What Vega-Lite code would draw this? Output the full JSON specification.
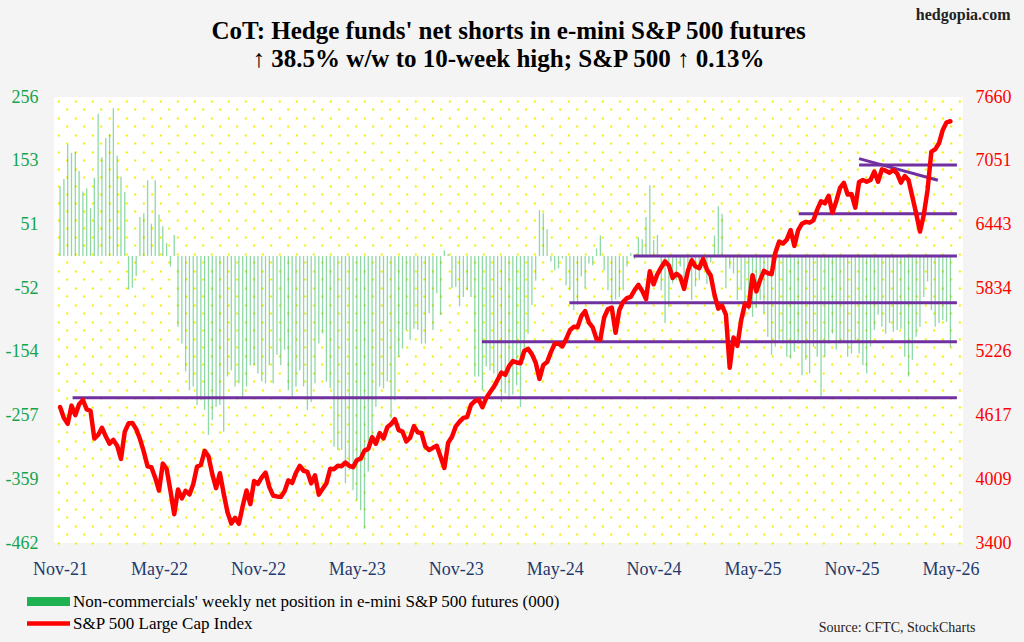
{
  "$schema": "https://vega.github.io/schema/vega-lite/v6.json",
  "width": 909,
  "height": 446,
  "autosize": {"type": "none"},
  "padding": {"left": 54, "top": 97, "right": 61, "bottom": 99},
  "background": "#f4f4f4",
  "config": {
    "font": "Liberation Serif",
    "view": {"fill": "#ffffff", "stroke": null}
  },
  "title": {
    "text": ["CoT: Hedge funds' net shorts in e-mini S&P 500 futures", "↑ 38.5% w/w to 10-week high; S&P 500 ↑ 0.13%"],
    "font": "Liberation Serif",
    "fontSize": 25,
    "fontWeight": "bold",
    "lineHeight": 28,
    "color": "#000000",
    "anchor": "middle",
    "frame": "group",
    "offset": -66
  },
  "datasets": {
    "weeks": [
      {"d":"2021-11-16","n":112,"s":4698},{"d":"2021-11-23","n":124,"s":4595},{"d":"2021-11-30","n":180,"s":4538},
      {"d":"2021-12-07","n":166,"s":4712},{"d":"2021-12-14","n":168,"s":4621},{"d":"2021-12-21","n":137,"s":4726},
      {"d":"2021-12-28","n":104,"s":4766},{"d":"2022-01-04","n":109,"s":4677},{"d":"2022-01-11","n":77,"s":4663},
      {"d":"2022-01-18","n":126,"s":4398},{"d":"2022-01-25","n":229,"s":4432},{"d":"2022-02-01","n":159,"s":4501},
      {"d":"2022-02-08","n":190,"s":4419},{"d":"2022-02-15","n":196,"s":4349},{"d":"2022-02-22","n":238,"s":4385},
      {"d":"2022-03-01","n":162,"s":4329},{"d":"2022-03-08","n":128,"s":4204},{"d":"2022-03-15","n":103,"s":4463},
      {"d":"2022-03-22","n":-54,"s":4543},{"d":"2022-03-29","n":-51,"s":4546},{"d":"2022-04-05","n":-32,"s":4488},
      {"d":"2022-04-12","n":63,"s":4393},{"d":"2022-04-19","n":69,"s":4272},{"d":"2022-04-26","n":122,"s":4132},
      {"d":"2022-05-03","n":52,"s":4123},{"d":"2022-05-10","n":122,"s":4024},{"d":"2022-05-17","n":67,"s":3901},
      {"d":"2022-05-24","n":48,"s":4158},{"d":"2022-05-31","n":21,"s":4109},{"d":"2022-06-07","n":-17,"s":3901},
      {"d":"2022-06-14","n":34,"s":3675},{"d":"2022-06-21","n":-114,"s":3912},{"d":"2022-06-28","n":-141,"s":3825},
      {"d":"2022-07-05","n":-186,"s":3899},{"d":"2022-07-12","n":-216,"s":3863},{"d":"2022-07-19","n":-210,"s":3962},
      {"d":"2022-07-26","n":-240,"s":4130},{"d":"2022-08-02","n":-232,"s":4145},{"d":"2022-08-09","n":-248,"s":4280},
      {"d":"2022-08-16","n":-288,"s":4228},{"d":"2022-08-23","n":-264,"s":4058},{"d":"2022-08-30","n":-243,"s":3924},
      {"d":"2022-09-06","n":-240,"s":4067},{"d":"2022-09-13","n":-283,"s":3873},{"d":"2022-09-20","n":-194,"s":3693},
      {"d":"2022-09-27","n":-184,"s":3586},{"d":"2022-10-04","n":-210,"s":3640},{"d":"2022-10-11","n":-205,"s":3583},
      {"d":"2022-10-18","n":-227,"s":3753},{"d":"2022-10-25","n":-210,"s":3901},{"d":"2022-11-01","n":-176,"s":3771},
      {"d":"2022-11-08","n":-176,"s":3993},{"d":"2022-11-15","n":-189,"s":3965},{"d":"2022-11-22","n":-202,"s":4026},
      {"d":"2022-11-29","n":-205,"s":4072},{"d":"2022-12-06","n":-176,"s":3934},{"d":"2022-12-13","n":-205,"s":3852},
      {"d":"2022-12-20","n":-159,"s":3845},{"d":"2022-12-27","n":-176,"s":3840},{"d":"2023-01-03","n":-151,"s":3895},
      {"d":"2023-01-10","n":-216,"s":3999},{"d":"2023-01-17","n":-227,"s":3973},{"d":"2023-01-24","n":-210,"s":4071},
      {"d":"2023-01-31","n":-184,"s":4136},{"d":"2023-02-07","n":-210,"s":4090},{"d":"2023-02-14","n":-248,"s":4079},
      {"d":"2023-02-21","n":-235,"s":3970},{"d":"2023-02-28","n":-205,"s":4046},{"d":"2023-03-07","n":-141,"s":3862},
      {"d":"2023-03-14","n":-125,"s":3917},{"d":"2023-03-21","n":-202,"s":3971},{"d":"2023-03-28","n":-213,"s":4109},
      {"d":"2023-04-04","n":-307,"s":4105},{"d":"2023-04-11","n":-312,"s":4138},{"d":"2023-04-18","n":-312,"s":4134},
      {"d":"2023-04-25","n":-366,"s":4169},{"d":"2023-05-02","n":-345,"s":4136},{"d":"2023-05-09","n":-377,"s":4124},
      {"d":"2023-05-16","n":-393,"s":4192},{"d":"2023-05-23","n":-409,"s":4205},{"d":"2023-05-30","n":-439,"s":4282},
      {"d":"2023-06-06","n":-347,"s":4299},{"d":"2023-06-13","n":-302,"s":4410},{"d":"2023-06-20","n":-243,"s":4348},
      {"d":"2023-06-27","n":-210,"s":4450},{"d":"2023-07-04","n":-213,"s":4399},{"d":"2023-07-11","n":-202,"s":4505},
      {"d":"2023-07-18","n":-261,"s":4536},{"d":"2023-07-25","n":-232,"s":4582},{"d":"2023-08-01","n":-162,"s":4478},
      {"d":"2023-08-08","n":-149,"s":4464},{"d":"2023-08-15","n":-119,"s":4370},{"d":"2023-08-22","n":-135,"s":4406},
      {"d":"2023-08-29","n":-117,"s":4516},{"d":"2023-09-05","n":-119,"s":4457},{"d":"2023-09-12","n":-141,"s":4450},
      {"d":"2023-09-19","n":-141,"s":4320},{"d":"2023-09-26","n":-92,"s":4288},{"d":"2023-10-03","n":-119,"s":4309},
      {"d":"2023-10-10","n":-60,"s":4328},{"d":"2023-10-17","n":-95,"s":4224},{"d":"2023-10-24","n":9,"s":4117},
      {"d":"2023-10-31","n":3,"s":4358},{"d":"2023-11-07","n":-52,"s":4415},{"d":"2023-11-14","n":-50,"s":4514},
      {"d":"2023-11-21","n":-81,"s":4559},{"d":"2023-11-28","n":-66,"s":4595},{"d":"2023-12-05","n":-55,"s":4604},
      {"d":"2023-12-12","n":-66,"s":4719},{"d":"2023-12-19","n":-194,"s":4755},{"d":"2023-12-26","n":-194,"s":4770},
      {"d":"2024-01-02","n":-216,"s":4697},{"d":"2024-01-09","n":-178,"s":4784},{"d":"2024-01-16","n":-184,"s":4840},
      {"d":"2024-01-23","n":-189,"s":4891},{"d":"2024-01-30","n":-208,"s":4959},{"d":"2024-02-06","n":-235,"s":5027},
      {"d":"2024-02-13","n":-221,"s":5006},{"d":"2024-02-20","n":-227,"s":5089},{"d":"2024-02-27","n":-223,"s":5137},
      {"d":"2024-03-05","n":-208,"s":5124},{"d":"2024-03-12","n":-243,"s":5117},{"d":"2024-03-19","n":-167,"s":5234},
      {"d":"2024-03-26","n":-125,"s":5254},{"d":"2024-04-02","n":-79,"s":5204},{"d":"2024-04-09","n":-40,"s":5123},
      {"d":"2024-04-16","n":74,"s":4967},{"d":"2024-04-23","n":69,"s":5100},{"d":"2024-04-30","n":43,"s":5128},
      {"d":"2024-05-07","n":-9,"s":5223},{"d":"2024-05-14","n":-23,"s":5303},{"d":"2024-05-21","n":-20,"s":5305},
      {"d":"2024-05-28","n":-4,"s":5278},{"d":"2024-06-04","n":-47,"s":5347},{"d":"2024-06-11","n":-55,"s":5432},
      {"d":"2024-06-18","n":-87,"s":5465},{"d":"2024-06-25","n":-79,"s":5460},{"d":"2024-07-02","n":-33,"s":5567},
      {"d":"2024-07-09","n":-52,"s":5615},{"d":"2024-07-16","n":-12,"s":5505},{"d":"2024-07-23","n":-15,"s":5459},
      {"d":"2024-07-30","n":12,"s":5347},{"d":"2024-08-06","n":33,"s":5344},{"d":"2024-08-13","n":-23,"s":5554},
      {"d":"2024-08-20","n":-55,"s":5635},{"d":"2024-08-27","n":-74,"s":5648},{"d":"2024-09-03","n":-70,"s":5408},
      {"d":"2024-09-10","n":-66,"s":5626},{"d":"2024-09-17","n":-55,"s":5703},{"d":"2024-09-24","n":-17,"s":5738},
      {"d":"2024-10-01","n":5,"s":5751},{"d":"2024-10-08","n":-5,"s":5815},{"d":"2024-10-15","n":30,"s":5865},
      {"d":"2024-10-22","n":27,"s":5808},{"d":"2024-10-29","n":63,"s":5729},{"d":"2024-11-05","n":114,"s":5996},
      {"d":"2024-11-12","n":26,"s":5871},{"d":"2024-11-19","n":34,"s":5969},{"d":"2024-11-26","n":-55,"s":6032},
      {"d":"2024-12-03","n":-108,"s":6090},{"d":"2024-12-10","n":-82,"s":6051},{"d":"2024-12-17","n":-44,"s":5931},
      {"d":"2024-12-24","n":-39,"s":5971},{"d":"2024-12-31","n":-17,"s":5942},{"d":"2025-01-07","n":-39,"s":5827},
      {"d":"2025-01-14","n":-28,"s":5997},{"d":"2025-01-21","n":-71,"s":6101},{"d":"2025-01-28","n":-49,"s":6041},
      {"d":"2025-02-04","n":-39,"s":6026},{"d":"2025-02-11","n":-20,"s":6115},{"d":"2025-02-18","n":-45,"s":6013},
      {"d":"2025-02-25","n":-10,"s":5955},{"d":"2025-03-04","n":33,"s":5770},{"d":"2025-03-11","n":80,"s":5639},
      {"d":"2025-03-18","n":68,"s":5668},{"d":"2025-03-25","n":-52,"s":5581},{"d":"2025-04-01","n":-20,"s":5074},
      {"d":"2025-04-08","n":-28,"s":5363},{"d":"2025-04-15","n":-71,"s":5283},{"d":"2025-04-22","n":-55,"s":5525},
      {"d":"2025-04-29","n":-98,"s":5687},{"d":"2025-05-06","n":-87,"s":5660},{"d":"2025-05-13","n":-98,"s":5958},
      {"d":"2025-05-20","n":-84,"s":5803},{"d":"2025-05-27","n":-71,"s":5912},{"d":"2025-06-03","n":-92,"s":6000},
      {"d":"2025-06-10","n":-130,"s":5977},{"d":"2025-06-17","n":-159,"s":5968},{"d":"2025-06-24","n":-146,"s":6173},
      {"d":"2025-07-01","n":-135,"s":6279},{"d":"2025-07-08","n":-141,"s":6260},{"d":"2025-07-15","n":-162,"s":6297},
      {"d":"2025-07-22","n":-165,"s":6389},{"d":"2025-07-29","n":-154,"s":6238},{"d":"2025-08-05","n":-141,"s":6389},
      {"d":"2025-08-12","n":-192,"s":6450},{"d":"2025-08-19","n":-167,"s":6467},{"d":"2025-08-26","n":-189,"s":6460},
      {"d":"2025-09-02","n":-146,"s":6482},{"d":"2025-09-09","n":-162,"s":6584},{"d":"2025-09-16","n":-227,"s":6664},
      {"d":"2025-09-23","n":-162,"s":6644},{"d":"2025-09-30","n":-141,"s":6716},{"d":"2025-10-07","n":-125,"s":6553},
      {"d":"2025-10-14","n":-151,"s":6664},{"d":"2025-10-21","n":-141,"s":6792},{"d":"2025-10-28","n":-138,"s":6840},
      {"d":"2025-11-04","n":-162,"s":6729},{"d":"2025-11-11","n":-157,"s":6734},{"d":"2025-11-18","n":-135,"s":6603},
      {"d":"2025-11-25","n":-157,"s":6849},{"d":"2025-12-02","n":-176,"s":6867},{"d":"2025-12-09","n":-189,"s":6851},
      {"d":"2025-12-16","n":-146,"s":6867},{"d":"2025-12-23","n":-119,"s":6947},{"d":"2025-12-30","n":-94,"s":6851},
      {"d":"2026-01-06","n":-114,"s":6969},{"d":"2026-01-13","n":-125,"s":6956},{"d":"2026-01-20","n":-108,"s":6937},
      {"d":"2026-01-27","n":-122,"s":6963},{"d":"2026-02-03","n":-119,"s":6931},{"d":"2026-02-10","n":-117,"s":6842},
      {"d":"2026-02-17","n":-162,"s":6905},{"d":"2026-02-24","n":-194,"s":6867},{"d":"2026-03-03","n":-167,"s":6708},
      {"d":"2026-03-10","n":-130,"s":6549},{"d":"2026-03-17","n":-114,"s":6374},{"d":"2026-03-24","n":-66,"s":6533},
      {"d":"2026-03-31","n":-41,"s":6772},{"d":"2026-04-07","n":-87,"s":7138},{"d":"2026-04-14","n":-114,"s":7160},
      {"d":"2026-04-21","n":-108,"s":7218},{"d":"2026-04-28","n":-103,"s":7345},{"d":"2026-05-05","n":-106,"s":7418},
      {"d":"2026-05-12","n":-147,"s":7428}
    ],
    "levels": [
      {"d":"2021-12-09","b":"2026-05-24","v1":4788,"v2":4788},
      {"d":"2024-01-01","b":"2026-05-24","v1":5323,"v2":5323},
      {"d":"2024-06-10","b":"2026-05-24","v1":5695,"v2":5695},
      {"d":"2024-10-06","b":"2026-05-24","v1":6141,"v2":6141},
      {"d":"2025-08-06","b":"2026-05-24","v1":6545,"v2":6545},
      {"d":"2025-11-25","b":"2026-05-24","v1":7011,"v2":7011},
      {"d":"2025-11-25","b":"2026-04-19","v1":7071,"v2":6865}
    ],
    "rows": [{"d":"2024-01-01","u":0}]
  },
  "encoding": {
    "x": {
      "field": "d",
      "type": "temporal",
      "scale": {"domain": [1636848000000, 1779753600000]},
      "axis": {
        "values": [1637020800000, 1652745600000, 1668470400000, 1684195200000, 1699920000000, 1715644800000, 1731369600000, 1747094400000, 1762819200000, 1778544000000],
        "format": "%b-%y",
        "grid": false,
        "ticks": false,
        "domain": false,
        "labelFont": "Liberation Serif",
        "labelFontSize": 18,
        "labelColor": "#1f3a6e",
        "labelPadding": 17,
        "labelFlush": false,
        "labelOverlap": false,
        "title": "Source: CFTC, StockCharts",
        "titleFont": "Liberation Serif",
        "titleFontSize": 14,
        "titleFontWeight": "normal",
        "titleColor": "#222222",
        "titleAlign": "right",
        "titleBaseline": "middle",
        "titleX": 921,
        "titleY": 84
      }
    }
  },
  "resolve": {"scale": {"y": "independent"}},
  "layer": [
    {
      "data": {"name": "rows"},
      "mark": {"type": "point", "opacity": 0},
      "encoding": {
        "y": {
          "field": "u",
          "type": "quantitative",
          "scale": {"domain": [0, 52.43], "nice": false, "zero": false},
          "axis": {
            "orient": "left",
            "values": [0,1,2,3,4,5,6,7,8,9,10,11,12,13,14,15,16,17,18,19,20,21,22,23,24,25,26,27,28,29,30,31,32,33,34,35,36,37,38,39,40,41,42,43,44,45,46,47,48,49,50,51,52],
            "grid": true,
            "gridColor": "#f0f000",
            "gridWidth": 2,
            "gridDash": [2, 15],
            "gridDashOffset": {"condition": {"test": "datum.value % 2 === 0", "value": 13.7}, "value": 5.3},
            "labels": false,
            "ticks": false,
            "domain": false,
            "title": null,
            "minExtent": 0,
            "maxExtent": 0
          }
        }
      }
    },
    {
      "data": {"name": "weeks"},
      "mark": {"type": "bar", "width": 1.3, "opacity": 0.5},
      "encoding": {
        "y": {
          "field": "n",
          "type": "quantitative",
          "scale": {"domain": [-462, 256], "nice": false, "zero": false},
          "axis": {
            "orient": "left",
            "values": [-462, -359, -257, -154, -52, 51, 153, 256],
            "labelExpr": "'' + datum.value",
            "grid": false,
            "ticks": false,
            "domain": false,
            "labelFont": "Liberation Serif",
            "labelFontSize": 18,
            "labelColor": "#14a44d",
            "labelPadding": 16,
            "labelFlush": false,
            "labelOverlap": false,
            "labelBound": false,
            "title": null
          }
        },
        "color": {
          "datum": "Non-commercials' weekly net position in e-mini S&P 500 futures (000)",
          "type": "nominal",
          "scale": {
            "domain": ["Non-commercials' weekly net position in e-mini S&P 500 futures (000)", "S&P 500 Large Cap Index"],
            "range": ["#1fb152", "#ff0000"]
          },
          "legend": {
            "orient": "none",
            "legendX": -27,
            "legendY": 496,
            "direction": "vertical",
            "title": null,
            "padding": 0,
            "labelFont": "Liberation Serif",
            "labelFontSize": 17,
            "labelColor": "#000000",
            "labelLimit": 0,
            "labelOffset": 3,
            "symbolSize": 1849,
            "symbolOpacity": 1,
            "clipHeight": 17,
            "rowPadding": 4,
            "encode": {
              "symbols": {
                "update": {
                  "shape": {"signal": "datum.value === 'S&P 500 Large Cap Index' ? 'M-1,-0.1H1V0.1H-1Z' : 'M-1,-0.21H1V0.21H-1Z'"},
                  "fill": {"signal": "datum.value === 'S&P 500 Large Cap Index' ? '#ff0000' : '#1fb152'"},
                  "stroke": {"value": "transparent"},
                  "strokeWidth": {"value": 0},
                  "opacity": {"value": 1},
                  "fillOpacity": {"value": 1},
                  "size": {"value": 1849}
                }
              }
            }
          }
        }
      }
    },
    {
      "data": {"name": "levels"},
      "mark": {"type": "rule", "color": "#7030a0", "strokeWidth": 3},
      "encoding": {
        "x2": {"field": "b"},
        "y": {
          "field": "v1",
          "type": "quantitative",
          "scale": {"domain": [3400, 7660], "nice": false, "zero": false},
          "axis": null
        },
        "y2": {"field": "v2"}
      }
    },
    {
      "data": {"name": "weeks"},
      "mark": {"type": "line", "strokeWidth": 4.5, "strokeJoin": "round", "strokeCap": "round"},
      "encoding": {
        "y": {
          "field": "s",
          "type": "quantitative",
          "scale": {"domain": [3400, 7660], "nice": false, "zero": false},
          "axis": {
            "orient": "right",
            "values": [3400, 4008.6, 4617.1, 5225.7, 5834.3, 6442.9, 7051.4, 7660],
            "format": ".0f",
            "grid": false,
            "ticks": false,
            "domain": false,
            "labelFont": "Liberation Serif",
            "labelFontSize": 18,
            "labelColor": "#ff0000",
            "labelPadding": 12,
            "labelFlush": false,
            "labelOverlap": false,
            "labelBound": false,
            "title": "hedgopia.com",
            "titleFont": "Liberation Serif",
            "titleFontSize": 16,
            "titleFontWeight": "bold",
            "titleColor": "#222222",
            "titleAngle": 0,
            "titleAlign": "right",
            "titleBaseline": "middle",
            "titleX": 47,
            "titleY": -83
          }
        },
        "color": {"datum": "S&P 500 Large Cap Index", "type": "nominal"}
      }
    }
  ]
}
